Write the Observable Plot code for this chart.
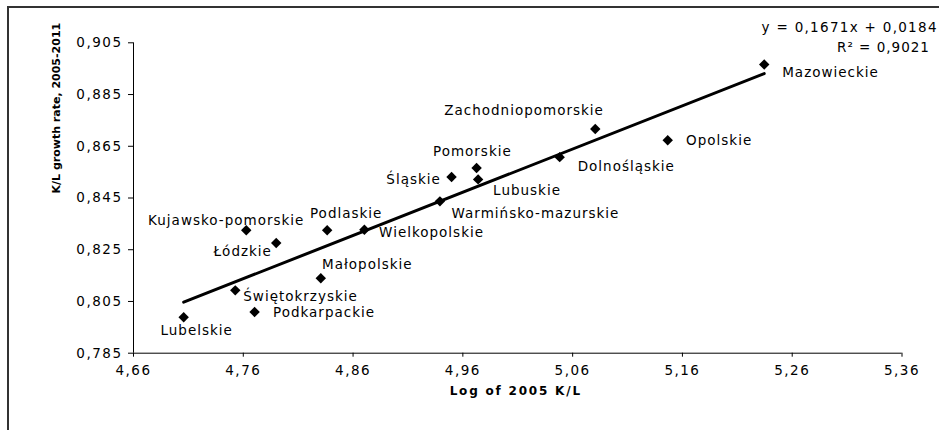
<!DOCTYPE html>
<html>
<head>
<meta charset="utf-8">
<script src="https://cdn.jsdelivr.net/npm/d3@7"></script>
<script src="https://cdn.jsdelivr.net/npm/@observablehq/plot@0.6"></script>
<style>
  html, body { margin: 0; padding: 0; background: #fff; }
  #wrap { position: relative; width: 939px; height: 430px; overflow: hidden; }
  #frame { position: absolute; left: 7px; top: 6px; width: 1000px; height: 1000px;
           border-left: 2px solid #333; border-top: 2px solid #333; pointer-events: none; }
</style>
</head>
<body>
<div id="wrap"><div id="frame"></div></div>
<script>
// ---- data ----
const regions = [
  "Lubelskie", "Kujawsko-pomorskie", "Łódzkie", "Podlaskie", "Wielkopolskie",
  "Małopolskie", "Świętokrzyskie", "Podkarpackie", "Warmińsko-mazurskie", "Śląskie",
  "Pomorskie", "Lubuskie", "Dolnośląskie", "Zachodniopomorskie", "Opolskie", "Mazowieckie"
];
const logKL2005 = [
  4.7057, 4.7627, 4.7900, 4.8364, 4.8703,
  4.8306, 4.7527, 4.7703, 4.9391, 4.9497,
  4.9725, 4.9739, 5.0482, 5.0806, 5.1466, 5.2345
];
const klGrowth = [
  0.7989, 0.8325, 0.8276, 0.8325, 0.8327,
  0.8140, 0.8093, 0.8009, 0.8437, 0.8531,
  0.8566, 0.8522, 0.8608, 0.8717, 0.8673, 0.8966
];
const xTicks = [4.66, 4.76, 4.86, 4.96, 5.06, 5.16, 5.26, 5.36];
const yTicks = [0.785, 0.805, 0.825, 0.845, 0.865, 0.885, 0.905];
const trendSlope = 0.1671;
const trendIntercept = 0.0184;
const trendR2 = 0.9021;
const xTitle = "Log of 2005 K/L";
const yTitle = "K/L growth rate, 2005-2011";

// ---- layout ----
const comma = (f) => (v) => d3.format(f)(v).replace(".", ",");
const data = regions.map((name, i) => ({ name, x: logKL2005[i], y: klGrowth[i] }));
const xr = d3.extent(logKL2005);
const trend = xr.map(x => ({ x, y: trendSlope * x + trendIntercept }));
const eqText = `y = ${comma(".4f")(trendSlope)}x + ${comma(".4f")(trendIntercept)}`;
const r2Text = `R² = ${comma(".4f")(trendR2)}`;

// label placement: [textAnchor, dx, dy] relative to the point
const labelPlacement = {
  "Lubelskie": ["middle", 13, 13.5],
  "Kujawsko-pomorskie": ["middle", -20, -10],
  "Łódzkie": ["middle", -33.5, 9],
  "Podlaskie": ["middle", 19, -16.7],
  "Wielkopolskie": ["start", 14.7, 3],
  "Małopolskie": ["start", 1.3, -13.4],
  "Świętokrzyskie": ["start", 8, 6.7],
  "Podkarpackie": ["start", 18.4, 0.6],
  "Warmińsko-mazurskie": ["start", 11.7, 12.3],
  "Śląskie": ["end", -10.7, 2.7],
  "Pomorskie": ["middle", -4.2, -16],
  "Lubuskie": ["start", 15, 11.7],
  "Dolnośląskie": ["start", 18, 10],
  "Zachodniopomorskie": ["middle", -71.2, -18.7],
  "Opolskie": ["start", 18.4, 0.7],
  "Mazowieckie": ["start", 18, 8]
};

const labelMarks = data.map(d => {
  const [anchor, dx, dy] = labelPlacement[d.name];
  return Plot.text([d], { x: "x", y: "y", text: "name", textAnchor: anchor, dx, dy, lineAnchor: "middle" });
});

const chart = Plot.plot({
  width: 939,
  height: 430,
  marginLeft: 133,
  marginRight: 37.5,
  marginTop: 42.3,
  marginBottom: 77.3,
  style: { fontFamily: "'DejaVu Sans', Verdana, sans-serif", fontSize: "13.5px", color: "#000", background: "transparent", overflow: "visible", letterSpacing: "1px" },
  x: { domain: [4.66, 5.36] },
  y: { domain: [0.785, 0.905] },
  marks: [
    Plot.axisY({ ticks: yTicks, tickFormat: comma(".3f"), tickSize: 5, tickPadding: 6, label: null }),
    Plot.axisX({ ticks: xTicks, tickFormat: comma(".2f"), tickSize: 4, tickPadding: 8, label: null }),
    Plot.ruleX([4.66], { stroke: "#000", strokeWidth: 1 }),
    Plot.ruleY([0.785], { stroke: "#000", strokeWidth: 1 }),
    Plot.line(trend, { x: "x", y: "y", stroke: "#000", strokeWidth: 3 }),
    Plot.dot(data, { x: "x", y: "y", symbol: "diamond2", r: 4.7, fill: "#000", stroke: "none" }),
    ...labelMarks,
    Plot.text([yTitle], { text: d => d, frameAnchor: "left", dx: -77.3, dy: -4.5, rotate: -90, fontWeight: "bold", fontSize: 11 }),
    Plot.text([xTitle], { text: d => d, frameAnchor: "bottom", dx: -2, dy: 41.6, fontWeight: "bold", fontSize: 12 }),
    Plot.text([eqText], { text: d => d, frameAnchor: "top-right", textAnchor: "end", dx: 35.8, dy: -20.3 }),
    Plot.text([r2Text], { text: d => d, frameAnchor: "top-right", textAnchor: "middle", dx: -18.5, dy: 0 })
  ]
});

const wrap = document.getElementById("wrap");
wrap.insertBefore(chart, wrap.firstChild);
const svg = d3.select(chart);
svg.selectAll("[aria-label='y-axis tick label'] text, [aria-label='x-axis tick label'] text").style("letter-spacing", "1.5px");
svg.selectAll("text").filter(function() { return this.textContent === yTitle; }).style("letter-spacing", "0px");
svg.selectAll("text").filter(function() { return this.textContent === xTitle; }).style("letter-spacing", "1.8px");
svg.selectAll("text").filter(function() { return this.textContent === eqText; }).style("letter-spacing", "1.3px");
</script>
</body>
</html>
